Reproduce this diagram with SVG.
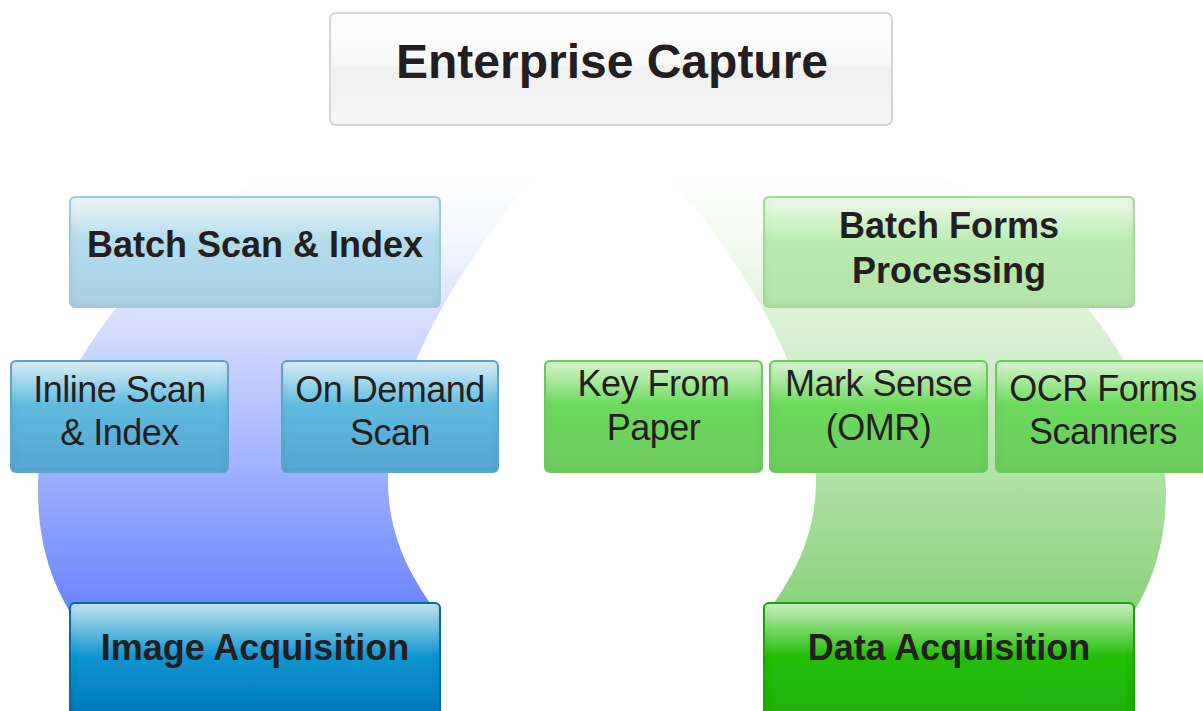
<svg xmlns="http://www.w3.org/2000/svg" width="1203" height="711" viewBox="0 0 1203 711">
<defs>
<style>
.t{font-family:"Liberation Sans",Arial,Helvetica,sans-serif;fill:#231f20;text-anchor:middle}
.b{font-weight:bold;font-size:36px}
.r{font-size:36px;letter-spacing:-0.5px}
.box{stroke-width:2}
</style>
<linearGradient id="gBlueArc" gradientUnits="userSpaceOnUse" x1="0" y1="170" x2="0" y2="612">
<stop offset="0" stop-color="#ffffff"/>
<stop offset="0.15" stop-color="#f5f7ff"/>
<stop offset="0.38" stop-color="#d0d9ff"/>
<stop offset="1" stop-color="#6a84ff"/>
</linearGradient>
<linearGradient id="gGreenArc" gradientUnits="userSpaceOnUse" x1="0" y1="170" x2="0" y2="612">
<stop offset="0" stop-color="#ffffff"/>
<stop offset="0.15" stop-color="#f4fbf2"/>
<stop offset="0.38" stop-color="#d8f0d2"/>
<stop offset="1" stop-color="#89d27b"/>
</linearGradient>
<linearGradient id="gTitle" x1="0" y1="0" x2="0" y2="1">
<stop offset="0" stop-color="#ffffff"/>
<stop offset="0.45" stop-color="#f9f9f9"/>
<stop offset="0.5" stop-color="#efefef"/>
<stop offset="1" stop-color="#f7f7f7"/>
</linearGradient>
<linearGradient id="gB1" x1="0" y1="0" x2="0" y2="1">
<stop offset="0" stop-color="#eef6fa"/>
<stop offset="0.4" stop-color="#b4dcec"/>
<stop offset="1" stop-color="#a8cfe4"/>
</linearGradient>
<linearGradient id="gB2" x1="0" y1="0" x2="0" y2="1">
<stop offset="0" stop-color="#dbeff6"/>
<stop offset="0.4" stop-color="#5fbadf"/>
<stop offset="1" stop-color="#57a5d0"/>
</linearGradient>
<linearGradient id="gB3" x1="0" y1="0" x2="0" y2="1">
<stop offset="0" stop-color="#c6e4f0"/>
<stop offset="0.45" stop-color="#0c95d0"/>
<stop offset="1" stop-color="#0072b4"/>
</linearGradient>
<linearGradient id="gG1" x1="0" y1="0" x2="0" y2="1">
<stop offset="0" stop-color="#eefaeb"/>
<stop offset="0.4" stop-color="#bcebb2"/>
<stop offset="1" stop-color="#b2e3a8"/>
</linearGradient>
<linearGradient id="gG2" x1="0" y1="0" x2="0" y2="1">
<stop offset="0" stop-color="#d8f6d1"/>
<stop offset="0.4" stop-color="#6cd95c"/>
<stop offset="1" stop-color="#6dcb5f"/>
</linearGradient>
<linearGradient id="gG3" x1="0" y1="0" x2="0" y2="1">
<stop offset="0" stop-color="#cbf0c2"/>
<stop offset="0.45" stop-color="#21be06"/>
<stop offset="1" stop-color="#21ae0b"/>
</linearGradient>
<filter id="inset" x="-5%" y="-10%" width="110%" height="120%">
<feFlood flood-color="#000" flood-opacity="0.18" result="f"/>
<feComposite in="f" in2="SourceAlpha" operator="out" result="o"/>
<feGaussianBlur in="o" stdDeviation="4" result="bl"/>
<feComposite in="bl" in2="SourceAlpha" operator="in" result="sh"/>
<feMerge><feMergeNode in="SourceGraphic"/><feMergeNode in="sh"/></feMerge>
</filter>
</defs>
<rect width="1203" height="711" fill="#ffffff"/>

<g id="arcs">
<path id="blue-arc" fill="url(#gBlueArc)" d="M262 176 L535 176 C455 270 388 385 388 480 C388 545 418 585 438 615 L72 615 C50 580 38 540 38 490 C38 370 170 232 262 176 Z"/>
<path id="green-arc" fill="url(#gGreenArc)" transform="translate(1204,0) scale(-1,1)" d="M262 176 L535 176 C455 270 388 385 388 480 C388 545 418 585 438 615 L72 615 C50 580 38 540 38 490 C38 370 170 232 262 176 Z"/>
</g>

<g id="connectors"></g>

<g id="node-enterprise-capture">
<rect x="330" y="13" width="562" height="112" rx="6" fill="url(#gTitle)" stroke="#d6d6d6" stroke-width="2"/>
<text class="t" x="612" y="78" font-size="48" font-weight="bold">Enterprise Capture</text>
</g>

<g id="node-batch-scan-index">
<rect class="box" x="70" y="197" width="370" height="110" rx="5" fill="url(#gB1)" stroke="#a6d2e6" filter="url(#inset)"/>
<text class="t b" x="255" y="257">Batch Scan &amp; Index</text>
</g>

<g id="node-inline-scan-index">
<rect class="box" x="11" y="361" width="217" height="111" rx="5" fill="url(#gB2)" stroke="#5eaad5" filter="url(#inset)"/>
<text class="t r" x="119.5" y="402">Inline Scan</text>
<text class="t r" x="119.5" y="445">&amp; Index</text>
</g>

<g id="node-on-demand-scan">
<rect class="box" x="282" y="361" width="216" height="111" rx="5" fill="url(#gB2)" stroke="#5eaad5" filter="url(#inset)"/>
<text class="t r" x="390" y="402">On Demand</text>
<text class="t r" x="390" y="445">Scan</text>
</g>

<g id="node-image-acquisition">
<rect class="box" x="70" y="603" width="370" height="120" rx="5" fill="url(#gB3)" stroke="#0a6fae" filter="url(#inset)"/>
<text class="t b" x="255" y="660">Image Acquisition</text>
</g>

<g id="node-batch-forms-processing">
<rect class="box" x="764" y="197" width="370" height="110" rx="5" fill="url(#gG1)" stroke="#a9e29d" filter="url(#inset)"/>
<text class="t b" x="949" y="238">Batch Forms</text>
<text class="t b" x="949" y="283">Processing</text>
</g>

<g id="node-key-from-paper">
<rect class="box" x="545" y="361" width="217" height="111" rx="5" fill="url(#gG2)" stroke="#6fd062" filter="url(#inset)"/>
<text class="t r" x="653.5" y="396">Key From</text>
<text class="t r" x="653.5" y="440">Paper</text>
</g>

<g id="node-mark-sense">
<rect class="box" x="770" y="361" width="217" height="111" rx="5" fill="url(#gG2)" stroke="#6fd062" filter="url(#inset)"/>
<text class="t r" x="878.5" y="396">Mark Sense</text>
<text class="t r" x="878.5" y="440">(OMR)</text>
</g>

<g id="node-ocr-forms-scanners">
<rect class="box" x="996" y="361" width="214" height="111" rx="5" fill="url(#gG2)" stroke="#6fd062" filter="url(#inset)"/>
<text class="t r" x="1103" y="401">OCR Forms</text>
<text class="t r" x="1103" y="444">Scanners</text>
</g>

<g id="node-data-acquisition">
<rect class="box" x="764" y="603" width="370" height="120" rx="5" fill="url(#gG3)" stroke="#22a815" filter="url(#inset)"/>
<text class="t b" x="949" y="660">Data Acquisition</text>
</g>
</svg>
